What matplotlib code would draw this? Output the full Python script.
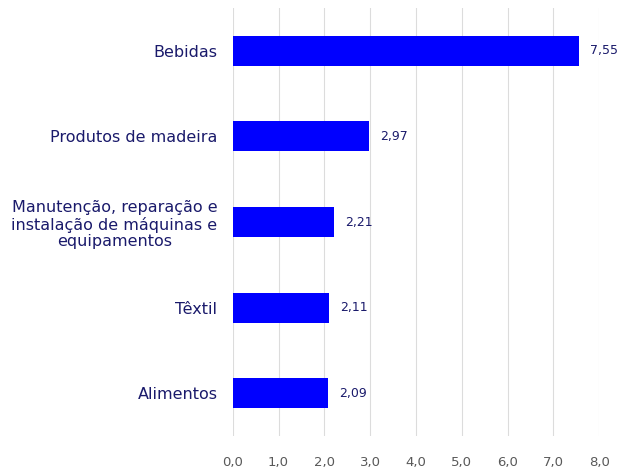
import matplotlib
matplotlib.use('Agg')
import matplotlib.pyplot as plt

# dados
categorias = ['Bebidas', 'Produtos de madeira',
              'Manutenção, reparação e\ninstalação de máquinas e\nequipamentos',
              'Têxtil', 'Alimentos']
valores = [7.55, 2.97, 2.21, 2.11, 2.09]
ticks_x = [0, 1, 2, 3, 4, 5, 6, 7, 8]

cor_barra = '#0000FF'
cor_texto = '#1a1a6b'
cor_eixo = '#595959'

fig = plt.figure(figsize=(6.19, 4.72), dpi=100)
ax = fig.add_axes([0.376, 0.076, 0.592, 0.907])

pos = list(range(len(categorias)))[::-1]
ax.barh(pos, valores, height=0.35, color=cor_barra, zorder=3)

for p, v in zip(pos, valores):
    ax.annotate(f'{v:.2f}'.replace('.', ','), (v, p), xytext=(8, 0),
                textcoords='offset points', va='center', ha='left',
                fontsize=9, color=cor_texto, annotation_clip=False)

ax.set_xlim(0, 8)
ax.set_ylim(-0.5, 4.5)
ax.set_xticks(ticks_x)
ax.set_xticklabels([f'{t:.1f}'.replace('.', ',') for t in ticks_x],
                   fontsize=9.5, color=cor_eixo)
ax.set_yticks(pos)
ax.set_yticklabels(categorias, fontsize=11.5, color=cor_texto,
                   linespacing=1.15)
for lbl in ax.get_yticklabels():
    lbl.set_multialignment('center')

ax.tick_params(axis='both', length=0)
ax.tick_params(axis='y', pad=11)
ax.tick_params(axis='x', pad=14)
ax.grid(axis='x', color='#dcdcdc', linewidth=0.8, zorder=0)
for s in ax.spines.values():
    s.set_visible(False)

fig.savefig('out.png', dpi=100)
